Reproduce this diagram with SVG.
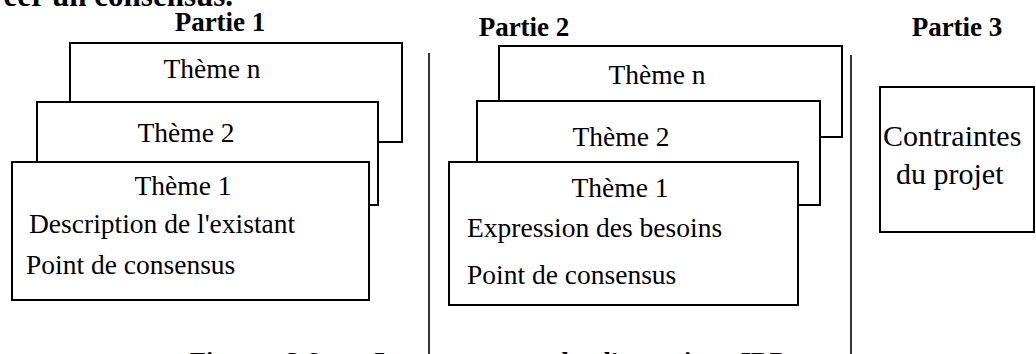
<svg xmlns="http://www.w3.org/2000/svg" width="1036" height="354" viewBox="0 0 1036 354">
<style>
text{font-family:"Liberation Serif","Times New Roman",serif;fill:#000}
.t{font-size:27.5px}
.h{font-size:27px;font-weight:bold}
.c{text-anchor:middle}
.box{fill:#fff;stroke:#000;stroke-width:2}
.div{stroke:#000;stroke-width:1.6;fill:none}
</style>
<rect width="1036" height="354" fill="#fff"/>
<text x="233" y="5.5" style="text-anchor:end;font-size:31px;font-weight:bold">créer un consensus.</text>
<g id="titles">
<text class="h c" x="220" y="31">Partie 1</text>
<text class="h c" x="524" y="36">Partie 2</text>
<text class="h c" x="957" y="36">Partie 3</text>
</g>
<g id="connectors">
<line class="div" x1="429" y1="53" x2="429" y2="354"/>
<line class="div" x1="851" y1="55" x2="851" y2="354"/>
</g>
<g id="p1-theme-n">
<rect class="box" x="70" y="43" width="332" height="99"/>
<text class="t c" x="212" y="78">Thème n</text>
</g>
<g id="p1-theme-2">
<rect class="box" x="37" y="102" width="341" height="103"/>
<text class="t c" x="186" y="142">Thème 2</text>
</g>
<g id="p1-theme-1">
<rect class="box" x="12" y="162" width="357" height="138"/>
<text class="t c" x="183" y="195">Thème 1</text>
<text class="t" x="29" y="233">Description de l'existant</text>
<text class="t" x="26" y="274">Point de consensus</text>
</g>
<g id="p2-theme-n">
<rect class="box" x="499" y="46" width="343" height="91"/>
<text class="t c" x="657" y="84">Thème n</text>
</g>
<g id="p2-theme-2">
<rect class="box" x="477" y="101" width="343" height="104"/>
<text class="t c" x="621" y="146">Thème 2</text>
</g>
<g id="p2-theme-1">
<rect class="box" x="449" y="162" width="349" height="143"/>
<text class="t c" x="620" y="197">Thème 1</text>
<text class="t" x="467" y="237">Expression des besoins</text>
<text class="t" x="467" y="284">Point de consensus</text>
</g>
<g id="p3-contraintes">
<rect class="box" x="880" y="87" width="154" height="145"/>
<text x="883" y="146" style="font-size:30px">Contraintes</text>
<text x="896" y="184" style="font-size:30px">du projet</text>
</g>
<text x="190" y="370" style="font-size:26px;font-weight:bold;word-spacing:17px">Figure 3.6 : La structure de l'entretien IRP</text>
</svg>
